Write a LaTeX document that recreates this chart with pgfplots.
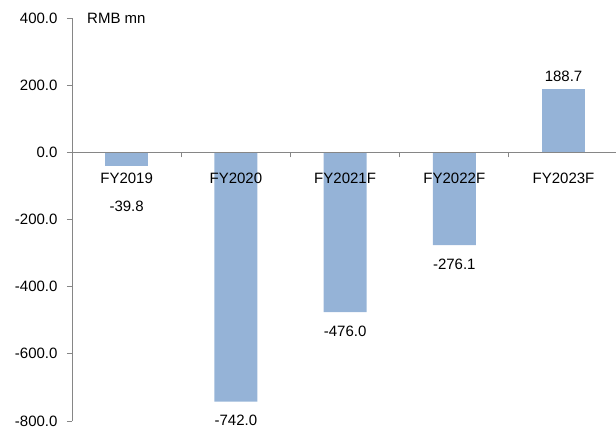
\documentclass[border=0pt]{standalone}
\usepackage{pgfplots}
\pgfplotsset{compat=1.18}
\usepackage{fontspec}
\setmainfont{Liberation Sans}
\definecolor{barblue}{HTML}{95B3D7}
\definecolor{axisgray}{HTML}{868686}
\begin{document}
\begin{tikzpicture}
\begin{axis}[name=ax, scale only axis, width=544pt, height=403pt,
  xmin=-0.5, xmax=4.48, ymin=-800, ymax=400,
  axis x line*=middle, axis y line*=left,
  axis on top,
  axis line style={draw=axisgray, line width=0.9pt},
  every tick/.style={draw=axisgray, line width=0.9pt},
  tick align=outside, major tick length=5pt,
  ybar, bar width=43pt,
  ytick={-800,-600,...,400},
  yticklabel style={/pgf/number format/fixed, /pgf/number format/fixed zerofill, /pgf/number format/precision=1, /pgf/number format/assume math mode=true, xshift=-6pt},
  xtick={0,1,2,3,4},
  xticklabels={FY2019,FY2020,FY2021F,FY2022F,FY2023F},
  major x tick style={draw=none},
  xticklabel style={anchor=north, yshift=-12pt},
  extra x ticks={0.5,1.5,2.5,3.5},
  extra x tick labels={},
  extra x tick style={major x tick style={draw=axisgray, line width=0.9pt}},
  every tick label/.append style={font=\fontsize{15}{18}\selectfont, text=black},
  nodes near coords,
  every node near coord/.append style={font=\fontsize{15}{18}\selectfont, text=black, /pgf/number format/fixed, /pgf/number format/fixed zerofill, /pgf/number format/precision=1, /pgf/number format/assume math mode=true},
  clip=false,
]
\addplot[fill=barblue, draw=none, bar shift=0pt, every node near coord/.append style={anchor=north, yshift=-32pt}] coordinates {(0,-39.8)};
\addplot[fill=barblue, draw=none, bar shift=0pt, every node near coord/.append style={anchor=north, yshift=-10pt}] coordinates {(1,-742.0) (2,-476.0) (3,-276.1)};
\addplot[fill=barblue, draw=none, bar shift=0pt, every node near coord/.append style={anchor=south, yshift=4pt}] coordinates {(4,188.7)};
\pgfplotsinvokeforeach{-800,-600,-400,-200,0,200,400}{
  \draw[draw=axisgray, line width=0.9pt] (axis cs:-0.5,#1) -- ([xshift=-5pt]axis cs:-0.5,#1);
}
\node[anchor=west, font=\fontsize{15}{18}\selectfont, inner sep=0pt] at (rel axis cs:0,1) [xshift=15pt] {RMB mn};
\end{axis}
\pgfresetboundingbox
\path[use as bounding box] (ax.south west) ++(-72pt,-11pt) rectangle ++(616pt,432pt);
\end{tikzpicture}
\end{document}
